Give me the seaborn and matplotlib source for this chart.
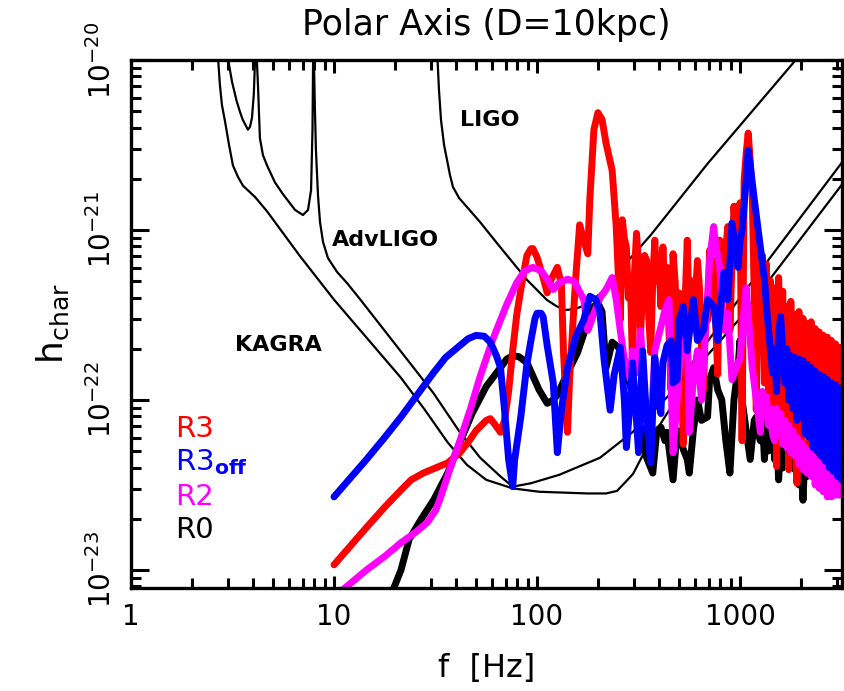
import numpy as np
import pandas as pd
import seaborn as sns
import matplotlib
matplotlib.use('Agg')
import matplotlib.pyplot as plt
from matplotlib.ticker import LogLocator, NullFormatter, FixedLocator

# values: log10(f / Hz) and log10(h_char / 1e-22)

# ---- detector sensitivity curves ----
ligo_lf = [1.50, 1.51, 1.517, 1.527, 1.542, 1.557, 1.571, 1.586, 1.616, 1.655, 1.719, 1.818, 1.951, 2.049,
           2.094, 2.138, 2.187, 2.227, 2.271, 2.31, 2.369, 2.42, 2.56, 2.84, 3.26, 3.34]
ligo_lh = [2.24, 2.00, 1.824, 1.647, 1.50, 1.41, 1.324, 1.253, 1.188, 1.135, 1.047, 0.90, 0.706, 0.588,
           0.553, 0.529, 0.535, 0.553, 0.588, 0.624, 0.70, 0.78, 0.97, 1.39, 1.98, 2.10]

kagra_lf = [0.42, 0.43, 0.438, 0.448, 0.463, 0.483, 0.502, 0.527, 0.552, 0.611, 0.67, 0.83, 1.00, 1.33,
            1.448, 1.56, 1.655, 1.75, 1.88, 2.01, 2.25, 2.34, 2.394, 2.43, 2.473, 2.51, 2.567, 2.64, 2.80,
            3.00, 3.51]
kagra_lh = [2.18, 1.99, 1.853, 1.735, 1.64, 1.50, 1.38, 1.312, 1.26, 1.194, 1.11, 0.85, 0.59, 0.13,
            -0.059, -0.25, -0.382, -0.47, -0.52, -0.54, -0.55, -0.55, -0.535, -0.49, -0.435, -0.35, -0.218,
            -0.08, 0.21, 0.48, 1.28]

adv_lf = [0.47, 0.48, 0.498, 0.52, 0.537, 0.55, 0.576, 0.586, 0.596, 0.605, 0.611, 0.616, 0.62, 0.626,
          0.635, 0.65, 0.67, 0.709, 0.749, 0.808, 0.847, 0.872, 0.887, 0.894, 0.897, 0.899, 0.901, 0.906,
          0.911, 0.921, 0.931, 0.946, 0.97, 1.015, 1.064, 1.13, 1.49, 1.62, 1.72, 1.82, 1.88, 1.97, 2.11,
          2.31, 2.47, 2.66, 2.80, 3.03, 3.51]
adv_lh = [2.18, 1.99, 1.87, 1.76, 1.694, 1.65, 1.59, 1.606, 1.66, 1.80, 2.00, 2.24, 2.00, 1.835,
          1.54, 1.44, 1.38, 1.28, 1.21, 1.118, 1.088, 1.118, 1.235, 1.59, 2.00, 2.24, 2.00, 1.706,
          1.47, 1.206, 1.047, 0.929, 0.835, 0.753, 0.688, 0.59, 0.04, -0.19, -0.34, -0.45, -0.51, -0.49, -0.44,
          -0.34, -0.19, 0.04, 0.28, 0.65, 1.41]

# ---- model spectra ----
r0_lf = [1.27, 1.30, 1.33, 1.37, 1.43, 1.49, 1.56, 1.62, 1.68, 1.75, 1.82, 1.85, 1.88, 1.91, 1.95, 1.98,
         2.01, 2.05, 2.08, 2.10, 2.15, 2.20, 2.25, 2.28, 2.30, 2.32, 2.34, 2.37, 2.40, 2.42, 2.46, 2.48,
         2.51, 2.54, 2.57, 2.59, 2.61, 2.63, 2.64, 2.67, 2.69, 2.70, 2.72, 2.74, 2.75, 2.77, 2.79, 2.81,
         2.84, 2.85, 2.87, 2.89, 2.91, 2.93, 2.95, 2.97, 2.99, 3.00, 3.01, 3.03, 3.05, 3.07, 3.08, 3.09,
         3.10, 3.11, 3.12, 3.13, 3.14, 3.15, 3.16, 3.17, 3.18, 3.19, 3.20, 3.21, 3.22, 3.23, 3.24, 3.25,
         3.26, 3.27, 3.28, 3.29, 3.30, 3.31, 3.32, 3.33, 3.34, 3.35, 3.36, 3.37, 3.38, 3.39, 3.40, 3.41,
         3.42, 3.43, 3.44, 3.45, 3.46, 3.47, 3.48, 3.49, 3.50]
r0_lh = [-1.18, -1.09, -1.00, -0.82, -0.70, -0.59, -0.43, -0.25, -0.08, 0.08, 0.19, 0.24, 0.26, 0.255, 0.22, 0.14,
         0.06, -0.02, 0.00, 0.03, 0.16, 0.28, 0.46, 0.55, 0.57, 0.52, 0.19, 0.34, 0.31, 0.28, 0.08, 0.00,
         -0.16, -0.34, -0.43, -0.18, -0.16, -0.24, -0.19, -0.47, -0.18, -0.19, -0.29, -0.35, -0.43, -0.18, 0.00, -0.12,
         -0.10, 0.12, 0.19, 0.06, 0.00, -0.24, -0.43, 0.00, 0.19, 0.35, 0.00, -0.18, -0.35, -0.12, -0.10, -0.20,
         -0.24, -0.10, -0.35, -0.15, -0.30, -0.12, -0.06, -0.35, -0.20, -0.47, -0.25, -0.40, -0.20, -0.29, -0.19, -0.35,
         -0.19, -0.41, -0.25, -0.50, -0.30, -0.59, -0.30, -0.45, -0.24, -0.38, -0.26, -0.41, -0.28, -0.43, -0.31, -0.41,
         -0.29, -0.45, -0.26, -0.40, -0.28, -0.42, -0.30, -0.38, -0.28]

r3_lf = [1.00, 1.08, 1.16, 1.25, 1.33, 1.38, 1.44, 1.50, 1.56, 1.62, 1.66, 1.70, 1.75, 1.77, 1.79, 1.82,
         1.84, 1.86, 1.88, 1.90, 1.92, 1.95, 1.97, 1.98, 2.00, 2.03, 2.05, 2.07, 2.10, 2.12, 2.13, 2.15,
         2.16, 2.19, 2.21, 2.23, 2.25, 2.26, 2.28, 2.30, 2.32, 2.34, 2.37, 2.39, 2.41, 2.42, 2.43, 2.44,
         2.45, 2.46, 2.47, 2.48, 2.49, 2.50, 2.51, 2.52, 2.53, 2.54, 2.55, 2.56, 2.57, 2.58, 2.59, 2.60,
         2.61, 2.62, 2.63, 2.64, 2.65, 2.66, 2.67, 2.68, 2.69, 2.70, 2.71, 2.72, 2.73, 2.74, 2.75, 2.76,
         2.77, 2.78, 2.79, 2.80, 2.81, 2.82, 2.83, 2.84, 2.85, 2.86, 2.87, 2.88, 2.89, 2.90, 2.91, 2.92,
         2.93, 2.94, 2.95, 2.96, 2.97, 2.98, 2.99, 3.00, 3.01, 3.02, 3.03, 3.04, 3.05, 3.06, 3.07, 3.08,
         3.09, 3.10, 3.11, 3.12, 3.13, 3.14, 3.15, 3.16, 3.17, 3.18, 3.19, 3.20, 3.21, 3.22, 3.23, 3.24,
         3.25, 3.26, 3.27, 3.28, 3.29, 3.30, 3.31, 3.32, 3.33, 3.34, 3.35, 3.36, 3.37, 3.38, 3.39, 3.40,
         3.41, 3.42, 3.43, 3.44, 3.45, 3.46, 3.47, 3.48, 3.49, 3.50]
r3_lh = [-0.97, -0.86, -0.75, -0.63, -0.53, -0.47, -0.43, -0.40, -0.37, -0.31, -0.25, -0.18, -0.12, -0.11, -0.14, -0.19,
         -0.12, 0.05, 0.29, 0.50, 0.65, 0.85, 0.89, 0.89, 0.84, 0.72, 0.63, 0.71, 0.78, 0.68, 0.29, -0.19,
         0.12, 0.71, 1.03, 0.94, 0.86, 1.18, 1.59, 1.69, 1.65, 1.51, 1.35, 1.02, 0.47, 1.06, 0.95, 0.90,
         0.60, 0.71, 0.21, 0.75, 0.98, 0.80, 0.40, 0.63, 0.85, 0.82, 0.50, 0.28, 0.70, 0.94, 0.70, 0.85,
         0.55, 0.90, 0.60, 0.78, 0.40, 0.06, 0.86, 0.70, 0.41, 0.63, 0.30, -0.26, 0.60, 0.94, 0.41, 0.70,
         0.43, 0.60, 0.82, 0.66, 0.30, 0.06, 0.50, 0.47, 0.88, 0.60, 0.82, 0.45, 0.15, 0.94, 0.70, 0.59,
         0.90, 1.02, 0.41, 0.80, 1.14, 0.95, 0.88, 1.16, -0.24, 1.29, 1.45, 1.57, 1.41, 1.22, 0.60, -0.06,
         0.92, 0.30, 0.85, 0.10, 0.80, 0.05, 0.70, -0.10, 0.66, -0.39, 0.72, -0.05, 0.64, -0.20, 0.55, -0.41,
         0.58, -0.30, 0.50, -0.49, 0.52, -0.25, 0.48, -0.15, 0.45, -0.41, 0.46, -0.30, 0.42, -0.18, 0.40, -0.43,
         0.38, -0.28, 0.37, -0.29, 0.35, -0.38, 0.33, -0.35, 0.31, -0.24]

r3off_lf = [1.00, 1.08, 1.16, 1.25, 1.33, 1.41, 1.49, 1.55, 1.61, 1.66, 1.70, 1.74, 1.77, 1.80, 1.82, 1.84,
            1.86, 1.88, 1.89, 1.92, 1.95, 1.97, 1.99, 2.00, 2.02, 2.03, 2.05, 2.08, 2.10, 2.12, 2.15, 2.19,
            2.23, 2.26, 2.29, 2.31, 2.33, 2.36, 2.38, 2.41, 2.43, 2.44, 2.46, 2.47, 2.49, 2.50, 2.51, 2.52,
            2.54, 2.56, 2.57, 2.58, 2.60, 2.61, 2.62, 2.64, 2.66, 2.67, 2.69, 2.70, 2.72, 2.74, 2.77, 2.79,
            2.82, 2.84, 2.87, 2.89, 2.92, 2.94, 2.96, 2.99, 3.00, 3.01, 3.03, 3.04, 3.05, 3.07, 3.10, 3.12,
            3.13, 3.15, 3.16, 3.17, 3.18, 3.19, 3.20, 3.21, 3.22, 3.23, 3.24, 3.25, 3.26, 3.27, 3.28, 3.29,
            3.30, 3.31, 3.32, 3.33, 3.34, 3.35, 3.36, 3.37, 3.38, 3.39, 3.40, 3.41, 3.42, 3.43, 3.44, 3.45,
            3.46, 3.47, 3.48, 3.49, 3.50]
r3off_lh = [-0.57, -0.46, -0.35, -0.22, -0.10, 0.03, 0.16, 0.25, 0.31, 0.36, 0.38, 0.375, 0.34, 0.26, 0.19, -0.06,
            -0.35, -0.51, -0.35, -0.10, 0.21, 0.35, 0.48, 0.51, 0.51, 0.49, 0.32, 0.10, -0.31, -0.06, 0.19, 0.37,
            0.47, 0.61, 0.59, 0.51, 0.24, -0.06, 0.15, 0.31, 0.00, -0.28, 0.00, 0.22, -0.12, -0.31, 0.00, 0.29,
            -0.12, -0.37, -0.06, 0.25, 0.00, -0.08, 0.22, 0.32, 0.35, 0.10, 0.12, 0.47, 0.55, 0.29, 0.59, 0.35,
            0.41, 0.59, 0.55, 0.35, 0.75, 0.59, 1.04, 0.78, 0.94, 1.00, 1.29, 1.47, 1.38, 1.18, 0.90, 0.71,
            0.55, 0.29, 0.16, 0.30, 0.05, 0.40, 0.49, 0.29, 0.10, 0.30, 0.00, 0.26, -0.05, 0.25, -0.12, 0.24,
            -0.10, 0.23, -0.20, 0.21, -0.22, 0.19, -0.28, 0.17, -0.30, 0.15, -0.33, 0.14, -0.36, 0.12, -0.40, 0.10,
            -0.42, 0.09, -0.45, 0.07, -0.47]

r2_lf = [1.04, 1.10, 1.16, 1.25, 1.33, 1.40, 1.46, 1.50, 1.52, 1.57, 1.62, 1.67, 1.72, 1.78, 1.85, 1.90,
         1.94, 1.98, 2.02, 2.05, 2.08, 2.11, 2.15, 2.18, 2.20, 2.23, 2.25, 2.26, 2.28, 2.31, 2.34, 2.37,
         2.39, 2.41, 2.43, 2.46, 2.47, 2.49, 2.51, 2.53, 2.56, 2.58, 2.61, 2.63, 2.65, 2.66, 2.67, 2.69,
         2.70, 2.72, 2.74, 2.75, 2.77, 2.79, 2.81, 2.83, 2.85, 2.87, 2.88, 2.90, 2.92, 2.94, 2.96, 2.99,
         3.00, 3.02, 3.03, 3.05, 3.06, 3.08, 3.10, 3.11, 3.12, 3.13, 3.14, 3.15, 3.16, 3.17, 3.18, 3.19,
         3.20, 3.21, 3.22, 3.23, 3.24, 3.25, 3.26, 3.27, 3.28, 3.29, 3.30, 3.31, 3.32, 3.33, 3.34, 3.35,
         3.36, 3.37, 3.38, 3.39, 3.40, 3.41, 3.42, 3.43, 3.44, 3.45, 3.46, 3.47, 3.48, 3.49, 3.50]
r2_lh = [-1.12, -1.06, -1.00, -0.92, -0.84, -0.78, -0.72, -0.65, -0.59, -0.41, -0.24, -0.06, 0.14, 0.35, 0.56, 0.69,
         0.76, 0.78, 0.76, 0.71, 0.65, 0.69, 0.71, 0.70, 0.66, 0.59, 0.41, 0.44, 0.51, 0.60, 0.65, 0.72,
         0.59, 0.41, 0.24, 0.12, 0.29, 0.16, 0.41, 0.00, -0.24, 0.29, 0.43, 0.53, 0.59, 0.12, -0.31, 0.00,
         0.19, 0.35, 0.45, -0.19, 0.12, 0.29, 0.00, 0.41, 0.82, 1.02, 0.91, 0.78, 0.41, 0.51, 0.12, 0.22,
         0.24, 0.53, 0.66, 0.35, 0.19, 0.00, -0.19, 0.05, -0.05, 0.02, -0.15, -0.05, -0.20, -0.24, -0.05, -0.20,
         -0.08, -0.26, -0.12, -0.28, -0.15, -0.31, -0.18, -0.33, -0.22, -0.38, -0.25, -0.41, -0.28, -0.43, -0.30, -0.45,
         -0.33, -0.50, -0.36, -0.52, -0.38, -0.54, -0.40, -0.57, -0.42, -0.57, -0.45, -0.56, -0.47, -0.56, -0.51]


def to_df(lf, lh):
    return pd.DataFrame({'f': 10 ** np.array(lf), 'h': 10 ** np.array(lh) * 1e-22})


sns.set_theme(style='ticks')
plt.rcParams['font.family'] = ['DejaVu Sans']
plt.rcParams['mathtext.fontset'] = 'dejavusans'
for k in ['text.color', 'axes.labelcolor', 'xtick.color', 'ytick.color', 'axes.edgecolor']:
    plt.rcParams[k] = 'black'

fig = plt.figure(figsize=(8.44, 6.91), dpi=100)
ax = fig.add_axes([0.1552, 0.1491, 0.8424, 0.7641])

for lf, lh in [(ligo_lf, ligo_lh), (adv_lf, adv_lh), (kagra_lf, kagra_lh)]:
    sns.lineplot(data=to_df(lf, lh), x='f', y='h', sort=False, estimator=None,
                 color='black', lw=1.6, ax=ax)

series = [(r0_lf, r0_lh, 'black'), (r3_lf, r3_lh, 'red'),
          (r2_lf, r2_lh, 'magenta'), (r3off_lf, r3off_lh, 'blue')]
for lf, lh, c in series:
    sns.lineplot(data=to_df(lf, lh), x='f', y='h', sort=False, estimator=None,
                 color=c, lw=5, ax=ax, solid_joinstyle='round', solid_capstyle='round')

ax.set_xscale('log')
ax.set_yscale('log')
ax.set_xlim(1, 10 ** 3.502)
ax.set_ylim(10 ** -23.106, 1e-20)

ax.xaxis.set_major_locator(FixedLocator([1, 10, 100, 1000]))
ax.set_xticklabels(['1', '10', '100', '1000'])
ax.xaxis.set_minor_locator(LogLocator(base=10, subs=np.arange(2, 10)))
ax.xaxis.set_minor_formatter(NullFormatter())
ax.yaxis.set_major_locator(FixedLocator([1e-23, 1e-22, 1e-21, 1e-20]))
ax.yaxis.set_minor_locator(LogLocator(base=10, subs=np.arange(2, 10)))
ax.yaxis.set_minor_formatter(NullFormatter())

for s in ax.spines.values():
    s.set_linewidth(2.4)
    s.set_color('black')
ax.tick_params(which='both', direction='in', top=True, right=True, width=2.2, color='black')
ax.tick_params(axis='x', which='major', length=9, pad=11, labelsize=20)
ax.tick_params(axis='x', which='minor', length=7)
ax.tick_params(axis='y', which='major', length=13, pad=10, labelsize=20, labelrotation=90)
ax.tick_params(axis='y', which='minor', length=7)
for lab in ax.get_yticklabels():
    lab.set_verticalalignment('center')

ax.set_xlabel('f  [Hz]', fontsize=23, labelpad=16)
ax.set_ylabel(r'$\mathregular{h_{char}}$', fontsize=26, labelpad=12)
ax.set_title('Polar Axis (D=10kpc)', fontsize=25, pad=18)

ax.text(5.3, 2.11e-22, 'KAGRA', fontsize=16, fontweight='bold', ha='center', va='center')
ax.text(18.0, 8.73e-22, 'AdvLIGO', fontsize=16, fontweight='bold', ha='center', va='center')
ax.text(58.6, 4.44e-21, 'LIGO', fontsize=16, fontweight='bold', ha='center', va='center')

tx = 0.062
ax.text(tx, 0.286, 'R3', color='red', fontsize=21, transform=ax.transAxes, va='baseline')
ax.text(tx, 0.2235, r'$\mathregular{R3}_\mathbf{off}$', color='blue', fontsize=21,
        transform=ax.transAxes, va='baseline')
ax.text(tx, 0.157, 'R2', color='magenta', fontsize=21, transform=ax.transAxes, va='baseline')
ax.text(tx, 0.0947, 'R0', color='black', fontsize=21, transform=ax.transAxes, va='baseline')

fig.savefig('out.png', dpi=100)
